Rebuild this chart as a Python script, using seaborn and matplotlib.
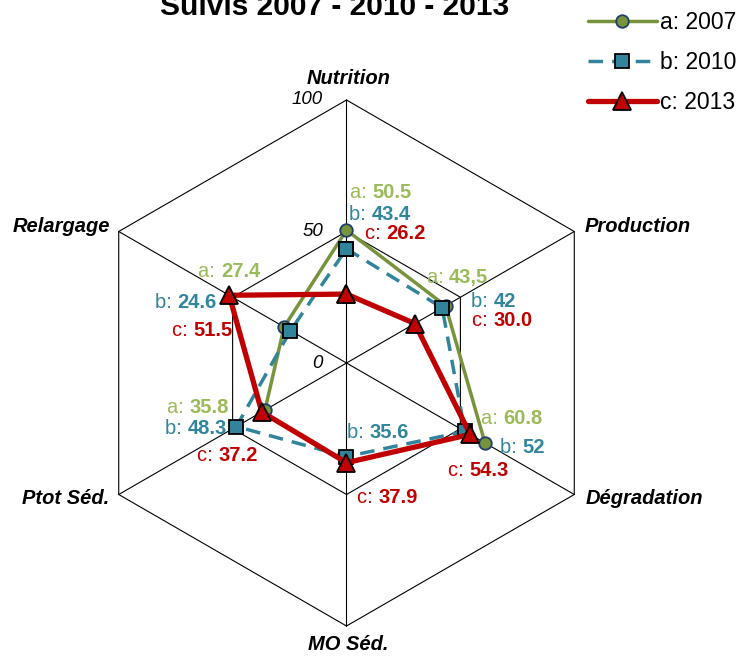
import numpy as np
import matplotlib
matplotlib.use("Agg")
import matplotlib.pyplot as plt
from matplotlib.lines import Line2D
from matplotlib.offsetbox import TextArea, HPacker, AnnotationBbox
import seaborn as sns

# data
AXES = ["Nutrition", "Production", "Dégradation", "MO Séd.", "Ptot Séd.", "Relargage"]
TICKS = [0, 50, 100]
SERIES = ["a: 2007", "b: 2010", "c: 2013"]
PREFIX = ["a: ", "b: ", "c: "]
VALUES_A = [50.5, 43.5, 60.8, np.nan, 35.8, 27.4]
VALUES_B = [43.4, 42.0, 52.0, 35.6, 48.3, 24.6]
VALUES_C = [26.2, 30.0, 54.3, 37.9, 37.2, 51.5]
TEXTS_A = ["50.5", "43,5", "60.8", "", "35.8", "27.4"]
TEXTS_B = ["43.4", "42", "52", "35.6", "48.3", "24.6"]
TEXTS_C = ["26.2", "30.0", "54.3", "37.9", "37.2", "51.5"]

# styles
LINE_COLORS = ["#77933c", "#31849b", "#c00000"]
TEXT_COLORS = ["#9bbb59", "#31859c", "#c00000"]
STYLES = [
    dict(lw=2.5, ls="-", marker="o", ms=9, mfc="#77933c", mec="#1f3e6e", mew=1.3),
    dict(lw=2.5, ls=(0, (4.2, 2.6)), marker="s", ms=10, mfc="#31849b", mec="black", mew=1.3),
    dict(lw=3.8, ls="-", marker="^", ms=12.5, mfc="#c00000", mec="black", mew=1.3),
]
# label offsets in pixels (dx, dy downward, alignment)
OFF_A = [(3.5, -38, "l"), (-19, -28, "l"), (-4, -24, "l"), None, (-36, -3, "r"), (-24, -55, "r")]
OFF_B = [(2.5, -34, "l"), (29, -6, "l"), (35, 16, "l"), (0.5, -24, "l"), (-9.5, 1.5, "r"), (-73.5, -28, "r")]
OFF_C = [(18.5, -61, "l"), (57, -3, "l"), (-22, 36, "l"), (10.5, 35, "l"), (-4, 44, "r"), (3, 35, "r")]
AXIS_OFF = [(2, 21, "center"), (10, 5.5, "left"), (11, -3.5, "left"),
            (2, -18, "center"), (-9, -3.5, "right"), (-9, 4.5, "right")]

W, H = 742, 656
CX, CY, K = 346.5, 363, 2.63  # centre pixel, px per unit

sns.set_style("white")
plt.rcParams["font.family"] = ["Liberation Sans", "DejaVu Sans"]
plt.rcParams["text.color"] = "black"

fig = plt.figure(figsize=(W / 100, H / 100), dpi=100)
ax = fig.add_axes([0, 0, 1, 1])

ang = np.deg2rad(90 - 60 * np.arange(len(AXES)))
cs, sn = np.cos(ang), np.sin(ang)

# hexagonal grid
for r in TICKS[1:]:
    ax.plot(np.append(r * cs, r * cs[0]), np.append(r * sn, r * sn[0]), color="black", lw=0.8, zorder=1)
for c, s in zip(cs, sn):
    ax.plot([0, 100 * c], [0, 100 * s], color="black", lw=0.8, zorder=1)

for t in TICKS:
    ax.annotate(str(t), xy=(0, t), xytext=(-23.5, 0), textcoords="offset pixels",
                ha="right", va="center", fontsize=13.5, style="italic", color="black")

for name, c, s, (dx, dy, ha) in zip(AXES, cs, sn, AXIS_OFF):
    ax.annotate(name, xy=(100 * c, 100 * s), xytext=(dx, dy), textcoords="offset pixels",
                ha=ha, va="center", fontsize=14.5, fontweight="bold", style="italic", color="black")


def path(values):
    v = np.array(values, float)
    n = len(v)
    gaps = np.where(np.isnan(v))[0]
    if len(gaps):
        start = (gaps[-1] + 1) % n
        idx = [(start + i) % n for i in range(n)]
    else:
        idx = list(range(n)) + [0]
    idx = np.array([i for i in idx if not np.isnan(v[i])])
    return v[idx] * cs[idx], v[idx] * sn[idx]


all_vals = [VALUES_A, VALUES_B, VALUES_C]
all_txt = [TEXTS_A, TEXTS_B, TEXTS_C]
all_off = [OFF_A, OFF_B, OFF_C]

for i, vals in enumerate(all_vals):
    xs, ys = path(vals)
    sns.lineplot(x=xs, y=ys, sort=False, estimator=None, ax=ax, color=LINE_COLORS[i],
                 zorder=3 + i, **STYLES[i])

# data labels
for i, vals in enumerate(all_vals):
    for j, v in enumerate(vals):
        if np.isnan(v) or all_off[i][j] is None:
            continue
        dx, dy, al = all_off[i][j]
        box = HPacker(children=[
            TextArea(PREFIX[i], textprops=dict(color=TEXT_COLORS[i], fontsize=14.5)),
            TextArea(all_txt[i][j], textprops=dict(color=TEXT_COLORS[i], fontsize=14.5, fontweight="bold")),
        ], pad=0, sep=0, align="baseline")
        ab = AnnotationBbox(box, (v * cs[j], v * sn[j]), xybox=(dx, -dy), boxcoords="offset pixels",
                            box_alignment=(0 if al == "l" else 1, 0.5), frameon=False,
                            annotation_clip=False, zorder=10)
        ax.add_artist(ab)

ax.set_xlim(-CX / K, (W - CX) / K)
ax.set_ylim(-(H - CY) / K, CY / K)
ax.axis("off")

handles = [Line2D([], [], color=LINE_COLORS[i], **STYLES[i]) for i in range(3)]
fig.legend(handles, SERIES, loc="upper left", bbox_to_anchor=(588 / W, 1 - 11 / H),
           frameon=False, fontsize=16.5, handlelength=3.0, handletextpad=0.15,
           labelspacing=0.75, borderpad=0, borderaxespad=0, numpoints=1,
           labelcolor="black")

fig.text(335 / W, 1 - 15 / H, "Suivis 2007 - 2010 - 2013", ha="center", va="baseline",
         fontsize=21.5, fontweight="bold", color="black")

fig.savefig("out.png", dpi=100)
